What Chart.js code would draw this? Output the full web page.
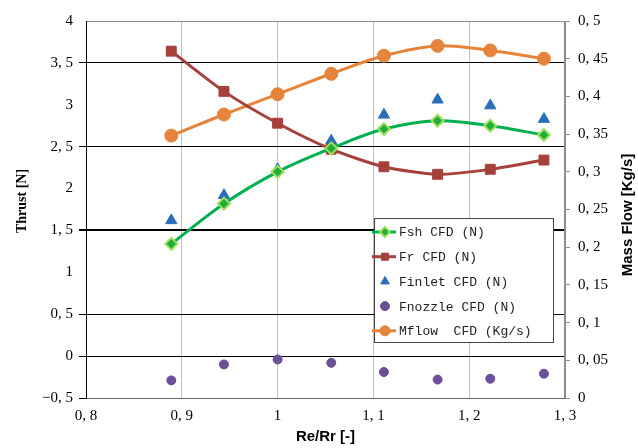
<!DOCTYPE html>
<html>
<head>
<meta charset="utf-8">
<script src="https://cdn.jsdelivr.net/npm/chart.js@4/dist/chart.umd.min.js"></script>
<style>
  html, body { margin: 0; padding: 0; background: #fff; }
  #wrap { width: 638px; height: 448px; }
</style>
</head>
<body>
<div id="wrap"><canvas id="thrustChart" width="638" height="448"></canvas></div>
<script>
// values
const reRatio = [0.889, 0.944, 1.0, 1.056, 1.111, 1.167, 1.222, 1.278];
const fshCfd = [1.34, 1.82, 2.2, 2.48, 2.71, 2.81, 2.75, 2.64];
const frCfd = [3.64, 3.16, 2.78, 2.47, 2.26, 2.17, 2.23, 2.34];
const finletCfd = [1.62, 1.92, 2.23, 2.57, 2.88, 3.06, 2.99, 2.83];
const fnozzleCfd = [-0.29, -0.1, -0.04, -0.08, -0.19, -0.28, -0.27, -0.21];
const mflowCfd = [0.348, 0.376, 0.403, 0.43, 0.454, 0.467, 0.461, 0.45];

const seriesLabels = ['Fsh CFD (N)', 'Fr CFD (N)', 'Finlet CFD (N)', 'Fnozzle CFD (N)', 'Mflow  CFD (Kg/s)'];
const leftTitle = 'Thrust [N]';
const rightTitle = 'Mass Flow [Kg/s]';
// horizontal lines that show up in the picture (left axis values)
const thrustGridValues = [3.5, 2.5, 1.5, 0.5, 0, -0.5];

const toPoints = ys => ys.map((y, i) => ({ x: reRatio[i], y: y }));

// decimal comma with a space, like the original
function fmt(v) {
  let s = String(Math.round(v * 100) / 100);
  if (s.startsWith('-')) s = '\u2212' + s.slice(1);
  return s.replace('.', ', ');
}

const serifTick = { family: "'Liberation Serif', serif", size: 15 };

// plot frame, axis titles (both read bottom-to-top) and the legend inside the plot
const framePlugin = {
  id: 'frame',
  beforeDatasetsDraw(chart) {
    const { ctx, chartArea: a } = chart;
    ctx.save();
    ctx.strokeStyle = '#8c8c8c';
    ctx.lineWidth = 1;
    ctx.beginPath();
    ctx.moveTo(a.left, a.top + 0.5);
    ctx.lineTo(a.right - 0.5, a.top + 0.5);
    ctx.lineTo(a.right - 0.5, a.bottom);
    ctx.stroke();
    ctx.strokeStyle = '#000';
    ctx.beginPath();
    ctx.moveTo(a.left + 0.5, a.top);
    ctx.lineTo(a.left + 0.5, a.bottom);
    ctx.stroke();
    ctx.restore();
  },
  afterDraw(chart) {
    const ctx = chart.ctx;

    // axis titles
    ctx.save();
    ctx.fillStyle = '#000';
    ctx.textAlign = 'center';
    ctx.textBaseline = 'middle';
    ctx.translate(22, 201);
    ctx.rotate(-Math.PI / 2);
    ctx.font = "bold 14px 'Liberation Serif', serif";
    ctx.fillText(leftTitle, 0, 0);
    ctx.restore();

    ctx.save();
    ctx.fillStyle = '#000';
    ctx.textAlign = 'center';
    ctx.textBaseline = 'middle';
    ctx.translate(628, 215);
    ctx.rotate(-Math.PI / 2);
    ctx.font = "bold 15px 'Liberation Sans', Arial, sans-serif";
    ctx.fillText(rightTitle, 0, 0);
    ctx.restore();

    // legend box
    const box = { x: 374, y: 218, w: 179, h: 124 };
    ctx.save();
    ctx.fillStyle = '#fff';
    ctx.fillRect(box.x, box.y, box.w, box.h);
    ctx.strokeStyle = '#444';
    ctx.lineWidth = 1;
    ctx.strokeRect(box.x + 0.5, box.y + 0.5, box.w, box.h);
    ctx.font = "13px 'Liberation Mono', monospace";
    ctx.textBaseline = 'middle';
    chart.data.datasets.forEach((ds, i) => {
      const y = box.y + 14 + i * 24.7;
      if (ds.showLine) {
        ctx.strokeStyle = ds.borderColor;
        ctx.lineWidth = 3;
        ctx.beginPath();
        ctx.moveTo(box.x - 2, y);
        ctx.lineTo(box.x + 22, y);
        ctx.stroke();
      }
      ctx.fillStyle = ds.pointBackgroundColor;
      ctx.strokeStyle = ds.pointBorderColor;
      ctx.lineWidth = ds.pointBorderWidth;
      Chart.helpers.drawPoint(ctx, {
        pointStyle: ds.pointStyle,
        radius: Math.min(ds.pointRadius, 5),
        rotation: 0,
        borderWidth: ds.pointBorderWidth
      }, box.x + 11, y);
      ctx.fillStyle = '#222';
      ctx.fillText(ds.label, box.x + 25, y + 1);
    });
    ctx.restore();
  }
};

new Chart(document.getElementById('thrustChart'), {
  type: 'line',
  data: {
    datasets: [
      {
        label: seriesLabels[0],
        data: toPoints(fshCfd),
        yAxisID: 'y',
        showLine: true,
        borderColor: '#00b050',
        borderWidth: 3,
        tension: 0.35,
        pointStyle: 'rectRot',
        pointRadius: 6,
        pointBackgroundColor: '#1fae3c',
        pointBorderColor: '#9ee05a',
        pointBorderWidth: 2
      },
      {
        label: seriesLabels[1],
        data: toPoints(frCfd),
        yAxisID: 'y',
        showLine: true,
        borderColor: '#a5403b',
        borderWidth: 3,
        tension: 0.25,
        pointStyle: 'rect',
        pointRadius: 7,
        pointBackgroundColor: '#a5403b',
        pointBorderColor: '#a5403b',
        pointBorderWidth: 1
      },
      {
        label: seriesLabels[2],
        data: toPoints(finletCfd),
        yAxisID: 'y',
        showLine: false,
        borderColor: '#2a6ebb',
        pointStyle: 'triangle',
        pointRadius: 6.5,
        pointBackgroundColor: '#2a6ebb',
        pointBorderColor: '#2a6ebb',
        pointBorderWidth: 1
      },
      {
        label: seriesLabels[3],
        data: toPoints(fnozzleCfd),
        yAxisID: 'y',
        showLine: false,
        borderColor: '#6c4f97',
        pointStyle: 'circle',
        pointRadius: 4.5,
        pointBackgroundColor: '#6c4f97',
        pointBorderColor: '#6c4f97',
        pointBorderWidth: 1
      },
      {
        label: seriesLabels[4],
        data: toPoints(mflowCfd),
        yAxisID: 'y1',
        showLine: true,
        borderColor: '#e5843a',
        borderWidth: 3,
        tension: 0.35,
        pointStyle: 'circle',
        pointRadius: 6.5,
        pointBackgroundColor: '#e5843a',
        pointBorderColor: '#e5843a',
        pointBorderWidth: 1
      }
    ]
  },
  options: {
    responsive: false,
    animation: false,
    layout: { padding: { top: 21, left: 0, right: 0, bottom: 0 } },
    plugins: {
      legend: { display: false },
      tooltip: { enabled: false }
    },
    scales: {
      x: {
        type: 'linear',
        min: 0.8,
        max: 1.3,
        afterFit: s => { s.height = 50; },
        ticks: {
          stepSize: 0.1,
          padding: 9,
          color: '#000',
          font: serifTick,
          callback: v => fmt(v)
        },
        grid: {
          drawTicks: false,
          color: c => (c.tick && c.tick.value > 0.85 && c.tick.value < 1.25) ? '#c0c0c0' : 'rgba(0,0,0,0)'
        },
        border: { color: '#666' },
        title: {
          display: true,
          text: 'Re/Rr [-]',
          color: '#000',
          font: { family: "'Liberation Sans', Arial, sans-serif", size: 15, weight: 'bold' },
          padding: { top: 0, bottom: 2 }
        }
      },
      y: {
        position: 'left',
        min: -0.5,
        max: 4,
        afterFit: s => { s.width = 86; },
        ticks: {
          stepSize: 0.5,
          padding: 6,
          color: '#000',
          font: serifTick,
          callback: v => fmt(v)
        },
        grid: {
          tickLength: 7,
          color: c => thrustGridValues.some(g => Math.abs(g - c.tick.value) < 1e-6) ? '#000' : 'rgba(0,0,0,0)',
          lineWidth: c => Math.abs(c.tick.value - 1.5) < 1e-6 ? 2 : 1
        },
        border: { color: '#000' },
        title: { display: false }
      },
      y1: {
        position: 'right',
        min: 0,
        max: 0.5,
        afterFit: s => { s.width = 73; },
        ticks: {
          stepSize: 0.05,
          padding: 8,
          color: '#000',
          font: serifTick,
          callback: v => fmt(v)
        },
        grid: {
          drawOnChartArea: false,
          tickLength: 5,
          color: '#8c8c8c'
        },
        border: { color: '#8c8c8c' },
        title: { display: false }
      }
    }
  },
  plugins: [framePlugin]
});
</script>
</body>
</html>
